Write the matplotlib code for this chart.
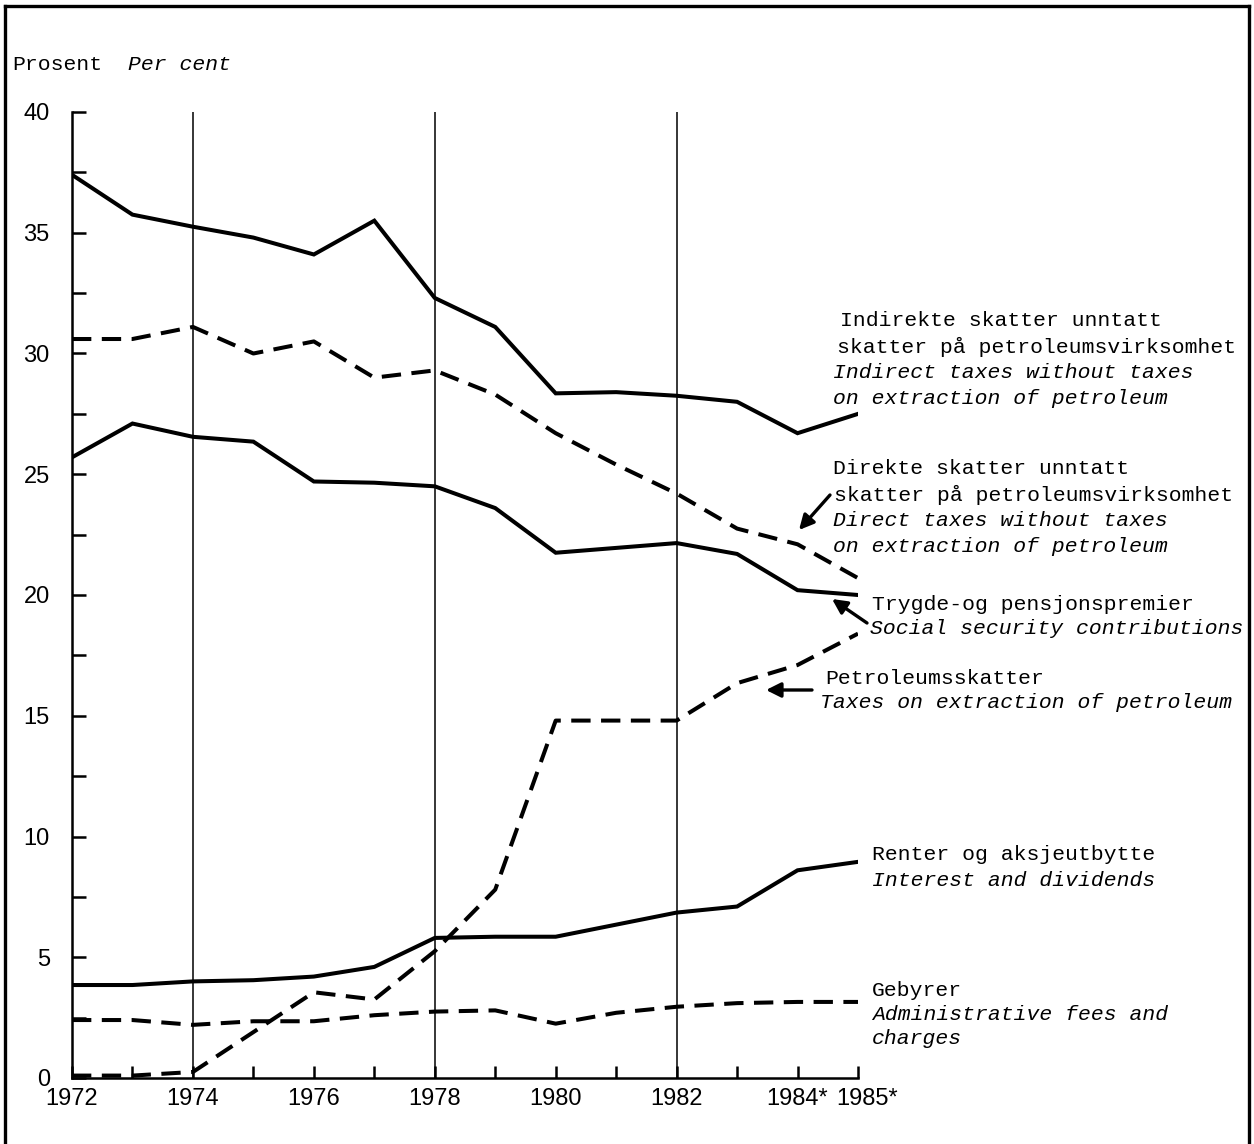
import matplotlib
matplotlib.use("Agg")
import matplotlib.pyplot as plt
from matplotlib.lines import Line2D
from matplotlib.transforms import ScaledTranslation
from matplotlib.ticker import MultipleLocator, FixedLocator, FixedFormatter

# ---------------- data ----------------
years = list(range(1972, 1986))
indirect = [37.4, 35.75, 35.25, 34.8, 34.1, 35.5, 32.3, 31.1, 28.35, 28.4, 28.25, 28.0, 26.7, 27.5]
direct = [30.6, 30.6, 31.1, 30.0, 30.5, 29.0, 29.3, 28.3, 26.7, 25.4, 24.2, 22.75, 22.1, 20.7]
social = [25.7, 27.1, 26.55, 26.35, 24.7, 24.65, 24.5, 23.6, 21.75, 21.95, 22.15, 21.7, 20.2, 20.0]
petroleum = [0.1, 0.1, 0.25, 1.9, 3.55, 3.25, 5.25, 7.8, 14.8, 14.8, 14.8, 16.35, 17.1, 18.4]
interest = [3.85, 3.85, 4.0, 4.05, 4.2, 4.6, 5.8, 5.85, 5.85, 6.35, 6.85, 7.1, 8.6, 8.95]
fees = [2.4, 2.4, 2.2, 2.35, 2.35, 2.6, 2.75, 2.8, 2.25, 2.7, 2.95, 3.1, 3.15, 3.15]

xtick_pos = [1972, 1974, 1976, 1978, 1980, 1982, 1984, 1985]
xtick_labels = ["1972", "1974", "1976", "1978", "1980", "1982", "1984*", "1985*"]
ytick_pos = [0, 5, 10, 15, 20, 25, 30, 35, 40]
vlines = [1974, 1978, 1982]

W, H = 1254, 1144
fig = plt.figure(figsize=(W / 100, H / 100), dpi=100)
fig.patch.set_facecolor("white")

def fx(x):
    return x / W

def fy(y):
    return 1 - y / H

ax = fig.add_axes([fx(72), fy(1078), fx(858) - fx(72), fy(112) - fy(1078)])
ax.set_xlim(1972, 1985)
ax.set_ylim(0, 40)
ax.patch.set_alpha(0)

for s in ["top", "right"]:
    ax.spines[s].set_visible(False)
for s in ["left", "bottom"]:
    ax.spines[s].set_linewidth(1.8)

mono = ["Liberation Mono", "DejaVu Sans Mono"]
tickfont = ["Liberation Sans Narrow", "Liberation Sans", "DejaVu Sans"]

ax.xaxis.set_major_locator(FixedLocator(xtick_pos))
ax.xaxis.set_major_formatter(FixedFormatter(xtick_labels))
ax.xaxis.set_minor_locator(MultipleLocator(1))
ax.yaxis.set_major_locator(FixedLocator(ytick_pos))
ax.yaxis.set_minor_locator(MultipleLocator(2.5))

ax.tick_params(axis="x", which="both", direction="in", length=9, width=1.8, pad=7)
ax.tick_params(axis="y", which="both", direction="in", length=10, width=1.8, pad=16)
for lab in ax.get_xticklabels() + ax.get_yticklabels():
    lab.set_fontfamily(tickfont)
    lab.set_fontsize(17)

# nudge the two starred labels apart a little, as in the original
xticks = ax.xaxis.get_major_ticks()
xticks[7].label1.set_transform(xticks[7].label1.get_transform()
                               + ScaledTranslation(9 / 100, 0, fig.dpi_scale_trans))

for v in vlines:
    ax.plot([v, v], [0, 40], color="black", lw=1.1, zorder=1)

lw = 2.9
ax.plot(years, indirect, color="black", lw=lw, solid_joinstyle="miter", zorder=3)
ax.plot(years, social, color="black", lw=lw, solid_joinstyle="miter", zorder=3)
ax.plot(years, interest, color="black", lw=lw, solid_joinstyle="miter", zorder=3)
dash = (4.8, 2.6)
for series in (direct, petroleum, fees):
    ax.plot(years, series, color="black", lw=lw, dashes=dash, zorder=3)

# ---------------- texts ----------------
fs = 15.4

def t(x, y, s, italic=False):
    fig.text(fx(x), fy(y), s, fontsize=fs, family=mono,
             style="italic" if italic else "normal", ha="left", va="center")

t(12, 64, "Prosent")
t(128, 64, "Per cent", True)

t(840, 321, "Indirekte skatter unntatt")
t(837, 347, "skatter på petroleumsvirksomhet")
t(833, 372, "Indirect taxes without taxes", True)
t(833, 398, "on extraction of petroleum", True)

t(833, 469, "Direkte skatter unntatt")
t(834, 495, "skatter på petroleumsvirksomhet")
t(833, 521, "Direct taxes without taxes", True)
t(833, 547, "on extraction of petroleum", True)

t(872, 604, "Trygde-og pensjonspremier")
t(870, 628, "Social security contributions", True)

t(825, 678, "Petroleumsskatter")
t(820, 703, "Taxes on extraction of petroleum", True)

t(872, 855, "Renter og aksjeutbytte")
t(872, 880, "Interest and dividends", True)

t(872, 991, "Gebyrer")
t(872, 1014, "Administrative fees and", True)
t(872, 1038, "charges", True)

# arrows
def arrow(x0, y0, x1, y1):
    fig.add_artist(matplotlib.patches.FancyArrowPatch(
        (fx(x0), fy(y0)), (fx(x1), fy(y1)), transform=fig.transFigure,
        arrowstyle="-|>", mutation_scale=22, lw=2.4, color="black",
        shrinkA=0, shrinkB=0))

arrow(830, 495, 799, 530)
arrow(867, 623, 832, 599)
arrow(812, 690, 766, 690)

# border frame (open at bottom)
fig.add_artist(Line2D([fx(5), fx(5)], [fy(6), 0], transform=fig.transFigure, color="black", lw=2.4))
fig.add_artist(Line2D([fx(5), fx(1249)], [fy(6), fy(6)], transform=fig.transFigure, color="black", lw=2.4))
fig.add_artist(Line2D([fx(1249), fx(1249)], [fy(6), 0], transform=fig.transFigure, color="black", lw=2.4))

fig.savefig("out.png", dpi=100, facecolor="white")
